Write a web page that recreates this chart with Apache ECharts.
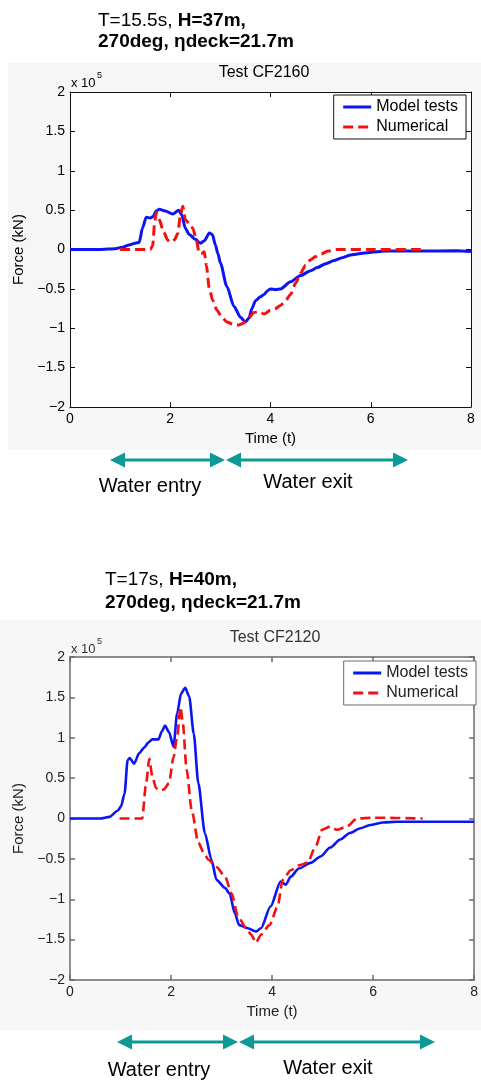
<!DOCTYPE html>
<html>
<head>
<meta charset="utf-8">
<script src="https://cdn.jsdelivr.net/npm/echarts@6/dist/echarts.min.js"></script>
<style>
  html, body { margin: 0; padding: 0; background: #fff; }
  #upper { position: absolute; left: 0; top: 0; width: 481px; height: 620px; }
  #lower { position: absolute; left: 0; top: 620px; width: 481px; height: 462px; filter: blur(0.5px); }
</style>
</head>
<body>
<div id="upper"></div>
<div id="lower"></div>
<script>
// Deck slamming force time histories, force in units of 1e5 kN
// Test CF2160 (T=15.5s, H=37m)
const cf2160ModelT = [0, 0.6, 0.9, 1.05, 1.2, 1.3, 1.38, 1.45, 1.52, 1.6, 1.66, 1.72, 1.78, 1.9, 2.05, 2.17, 2.23, 2.3, 2.38, 2.5, 2.6, 2.68, 2.78, 2.84, 2.9, 2.95, 3.0, 3.13, 3.27, 3.4, 3.5, 3.57, 3.63, 3.7, 3.8, 3.87, 3.95, 4.0, 4.1, 4.2, 4.4, 4.6, 4.8, 4.93, 5.1, 5.27, 5.45, 5.6, 5.8, 5.95, 6.3, 7.0, 7.7, 8.0];
const cf2160ModelF = [0, 0, 0.01, 0.03, 0.06, 0.08, 0.09, 0.28, 0.41, 0.40, 0.42, 0.49, 0.51, 0.49, 0.45, 0.50, 0.44, 0.27, 0.19, 0.13, 0.08, 0.11, 0.21, 0.19, 0.06, -0.05, -0.17, -0.47, -0.72, -0.86, -0.92, -0.87, -0.75, -0.65, -0.60, -0.57, -0.52, -0.50, -0.51, -0.50, -0.41, -0.33, -0.27, -0.23, -0.18, -0.14, -0.10, -0.07, -0.05, -0.04, -0.02, -0.02, -0.015, -0.025];
const cf2160NumT = [1.0, 1.6, 1.65, 1.69, 1.72, 1.78, 1.87, 1.95, 2.0, 2.08, 2.15, 2.2, 2.25, 2.3, 2.38, 2.45, 2.52, 2.58, 2.63, 2.68, 2.72, 2.78, 2.85, 2.93, 3.03, 3.13, 3.25, 3.35, 3.45, 3.55, 3.67, 3.78, 3.87, 4.0, 4.1, 4.2, 4.3, 4.4, 4.5, 4.6, 4.7, 4.8, 4.9, 5.0, 5.15, 5.3, 6.0, 7.0];
const cf2160NumF = [0, 0, 0.05, 0.35, 0.47, 0.38, 0.22, 0.12, 0.09, 0.12, 0.20, 0.42, 0.55, 0.38, 0.33, 0.27, 0.12, -0.05, -0.05, -0.03, -0.20, -0.50, -0.65, -0.77, -0.86, -0.92, -0.95, -0.96, -0.94, -0.88, -0.80, -0.79, -0.82, -0.77, -0.75, -0.71, -0.65, -0.57, -0.43, -0.30, -0.20, -0.13, -0.09, -0.06, -0.02, 0, 0, 0];

// Test CF2120 (T=17s, H=40m)
const cf2120ModelT = [0, 0.6, 0.78, 0.95, 1.01, 1.08, 1.14, 1.18, 1.27, 1.37, 1.47, 1.55, 1.63, 1.75, 1.82, 1.88, 1.96, 2.05, 2.12, 2.2, 2.28, 2.36, 2.45, 2.54, 2.67, 2.8, 2.9, 3.07, 3.16, 3.26, 3.35, 3.52, 3.68, 3.78, 3.97, 4.17, 4.27, 4.37, 4.53, 4.76, 4.96, 5.15, 5.35, 5.54, 5.75, 5.94, 6.2, 6.46, 8.0];
const cf2120ModelF = [0, 0, 0.02, 0.10, 0.15, 0.31, 0.72, 0.75, 0.68, 0.81, 0.88, 0.94, 0.98, 0.98, 1.08, 1.15, 1.07, 0.89, 1.30, 1.55, 1.62, 1.51, 1.05, 0.44, -0.18, -0.51, -0.76, -0.86, -0.93, -1.17, -1.32, -1.36, -1.40, -1.36, -1.09, -0.78, -0.82, -0.72, -0.62, -0.55, -0.47, -0.36, -0.26, -0.18, -0.12, -0.08, -0.05, -0.04, -0.04];
const cf2120NumT = [0.98, 1.43, 1.5, 1.57, 1.63, 1.7, 1.75, 1.86, 1.96, 2.05, 2.12, 2.19, 2.23, 2.31, 2.41, 2.54, 2.67, 2.74, 2.9, 3.07, 3.2, 3.33, 3.49, 3.59, 3.68, 3.78, 3.95, 4.11, 4.21, 4.37, 4.53, 4.7, 4.86, 4.99, 5.15, 5.28, 5.48, 5.68, 6.0, 6.98];
const cf2120NumF = [0, 0, 0.40, 0.74, 0.52, 0.38, 0.35, 0.36, 0.44, 0.76, 1.01, 1.38, 1.20, 0.60, 0.10, -0.30, -0.45, -0.51, -0.60, -0.72, -0.93, -1.22, -1.36, -1.44, -1.54, -1.44, -1.32, -1.09, -0.76, -0.64, -0.58, -0.55, -0.35, -0.14, -0.10, -0.14, -0.10, 0, 0.01, 0];

// Axis ticks
const timeTicks = { min: 0, max: 8, interval: 2 };
const forceTicks = { min: -2, max: 2, interval: 0.5 };

const FONT = '"Liberation Sans", Arial, Helvetica, sans-serif';
const TEAL = '#0b9a96';

const zip = (ts, fs) => ts.map((t, i) => [t, fs[i]]);
const fmtForce = v => v === 0 ? '0' : (v < 0 ? '\u2212' + String(-v) : String(v));

function arrow(x1, x2, y, head, half) {
  return [
    { type: 'line', silent: true, shape: { x1: x1 + head - 1, y1: y, x2: x2 - head + 1, y2: y }, style: { stroke: TEAL, lineWidth: 3 } },
    { type: 'polygon', silent: true, shape: { points: [[x1, y], [x1 + head, y - half], [x1 + head, y + half]] }, style: { fill: TEAL } },
    { type: 'polygon', silent: true, shape: { points: [[x2, y], [x2 - head, y - half], [x2 - head, y + half]] }, style: { fill: TEAL } }
  ];
}

function text(x, y, str, size, opts) {
  return Object.assign({
    type: 'text', silent: true, x: x, y: y,
    style: Object.assign({
      text: str, fill: '#000', font: (opts && opts.bold ? 'bold ' : '') + size + 'px ' + FONT,
      align: 'left', verticalAlign: 'middle', textAlign: 'left', textVerticalAlign: 'middle'
    }, opts && opts.style)
  }, opts && opts.el);
}

function header(x, y1, y2, plain, bold) {
  const rich = {
    r: { fontSize: 19, fontFamily: FONT, fontWeight: 'normal', fill: '#000' },
    b: { fontSize: 19, fontFamily: FONT, fontWeight: 'bold', fill: '#000' }
  };
  return [
    { type: 'text', silent: true, x: x, y: y1, style: { text: '{r|' + plain + '}{b|' + bold + '}', rich: rich, verticalAlign: 'middle', textVerticalAlign: 'middle' } },
    text(x, y2, '270deg, \u03B7deck=21.7m', 19, { bold: true })
  ];
}

function panel(p) {
  const axisColor = p.axisColor;
  const labelColor = p.labelColor;
  const line = { show: true, onZero: false, lineStyle: { color: axisColor, width: p.axisWidth } };
  const tick = { show: true, inside: true, length: 5, lineStyle: { color: axisColor, width: p.axisWidth } };
  const grid = { left: p.left, top: p.top, width: p.width, height: p.height, show: true, backgroundColor: '#fff', borderWidth: 0 };
  return {
    animation: false,
    grid: grid,
    xAxis: [
      Object.assign({ type: 'value', position: 'bottom', axisLine: line, axisTick: tick, splitLine: { show: false },
        axisLabel: { color: labelColor, fontSize: 14, fontFamily: FONT, margin: 5 },
        name: 'Time (t)', nameLocation: 'middle', nameGap: 21,
        nameTextStyle: { color: labelColor, fontSize: 15, fontFamily: FONT } }, timeTicks),
      Object.assign({ type: 'value', position: 'top', axisLine: line, axisTick: tick, splitLine: { show: false },
        axisLabel: { show: false } }, timeTicks)
    ],
    yAxis: [
      Object.assign({ type: 'value', position: 'left', axisLine: line, axisTick: tick, splitLine: { show: false },
        axisLabel: { color: labelColor, fontSize: 14, fontFamily: FONT, margin: 5, formatter: fmtForce },
        name: 'Force (kN)', nameLocation: 'middle', nameGap: 40,
        nameTextStyle: { color: labelColor, fontSize: 15, fontFamily: FONT } }, forceTicks),
      Object.assign({ type: 'value', position: 'right', axisLine: line, axisTick: tick, splitLine: { show: false },
        axisLabel: { show: false } }, forceTicks)
    ],
    legend: {
      orient: 'vertical', right: p.legendRight, top: p.legendTop,
      padding: [4, 8, 4, 8], itemGap: 4, itemWidth: 28, itemHeight: 14,
      backgroundColor: '#fff', borderColor: axisColor, borderWidth: 1, borderRadius: 0,
      itemStyle: { opacity: 0 },
      lineStyle: { width: 3 },
      textStyle: { color: labelColor, fontSize: 16, fontFamily: FONT },
      data: ['Model tests', 'Numerical'], selectedMode: false
    },
    series: [
      { name: 'Model tests', type: 'line', data: zip(p.modelT, p.modelF), symbol: 'none', showSymbol: false,
        smooth: 0.25, smoothMonotone: 'x', silent: true,
        lineStyle: { color: '#0a14f5', width: p.lineWidth }, itemStyle: { color: '#0a14f5' }, z: 3 },
      { name: 'Numerical', type: 'line', data: zip(p.numT, p.numF), symbol: 'none', showSymbol: false,
        smooth: 0.25, smoothMonotone: 'x', silent: true,
        lineStyle: { color: '#f51010', width: p.lineWidth, type: [10, 5] }, itemStyle: { color: '#f51010' }, z: 4 }
    ],
    graphic: p.graphic
  };
}

// Upper figure: CF2160 plus the header for CF2120
const upper = echarts.init(document.getElementById('upper'), null, { renderer: 'canvas' });
upper.setOption(panel({
  left: 70, top: 92, width: 401, height: 315,
  axisColor: '#111', labelColor: '#000', axisWidth: 1, lineWidth: 3,
  legendRight: 15, legendTop: 95,
  modelT: cf2160ModelT, modelF: cf2160ModelF, numT: cf2160NumT, numF: cf2160NumF,
  graphic: [
    { type: 'rect', silent: true, z: -100, shape: { x: 8, y: 63, width: 473, height: 387 }, style: { fill: '#f6f6f6' } },
    ...header(98, 21, 42, 'T=15.5s, ', 'H=37m,'),
    text(264, 73, 'Test CF2160', 16, { style: { align: 'center', textAlign: 'center' } }),
    text(71, 83, 'x 10', 13),
    text(97, 76, '5', 9),
    ...arrow(110, 225, 460, 15, 7.5),
    ...arrow(226, 408, 460, 15, 7.5),
    text(150, 486, 'Water entry', 20, { style: { align: 'center', textAlign: 'center' } }),
    text(308, 482, 'Water exit', 20, { style: { align: 'center', textAlign: 'center' } }),
    ...header(105, 580, 603, 'T=17s, ', 'H=40m,')
  ]
}));

// Lower figure: CF2120
const lower = echarts.init(document.getElementById('lower'), null, { renderer: 'canvas' });
lower.setOption(panel({
  left: 70, top: 37, width: 409, height: 323,
  axisColor: '#6a6a6a', labelColor: '#222', axisWidth: 1.5, lineWidth: 2.6,
  legendRight: 5, legendTop: 41,
  modelT: cf2120ModelT, modelF: cf2120ModelF, numT: cf2120NumT, numF: cf2120NumF,
  graphic: [
    { type: 'rect', silent: true, z: -100, shape: { x: 0, y: 0, width: 481, height: 410 }, style: { fill: '#f7f7f7' } },
    text(275, 18, 'Test CF2120', 16, { style: { align: 'center', textAlign: 'center', fill: '#333' } }),
    text(71, 29, 'x 10', 13, { style: { fill: '#333' } }),
    text(97, 22, '5', 9, { style: { fill: '#333' } }),
    ...arrow(117, 238, 422, 15, 7.5),
    ...arrow(239, 435, 422, 15, 7.5),
    text(159, 450, 'Water entry', 20, { style: { align: 'center', textAlign: 'center' } }),
    text(328, 448, 'Water exit', 20, { style: { align: 'center', textAlign: 'center' } })
  ]
}));
</script>
</body>
</html>
